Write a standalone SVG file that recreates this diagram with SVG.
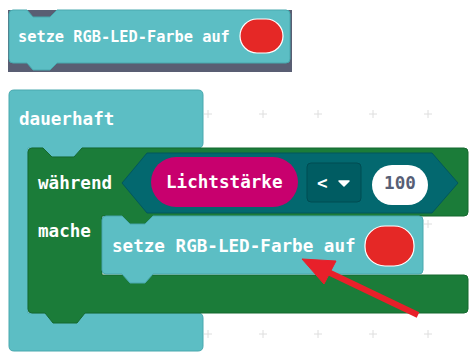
<svg xmlns="http://www.w3.org/2000/svg" width="469" height="352" viewBox="0 0 469 352">
  <defs>
    <style>
      .lbl { font-family: "DejaVu Sans Mono", "Liberation Mono", monospace; font-weight: bold; fill: #ffffff; }
      .big { font-size: 17.6px; }
      .small { font-size: 15.3px; }
      .teal { fill: #5cbec4; stroke: #48a8ae; stroke-width: 1; }
      .loop { fill: #1b7c39; stroke: #15692f; stroke-width: 1; }
      .colour { fill: #e52826; stroke: #ffffff; stroke-width: 1.2; }
      .grid { stroke: #dedede; stroke-width: 1; }
      .pointer { fill: #e8202a; stroke: #e8202a; }
    </style>
  </defs>

  <!-- workspace grid crosses -->
  <g id="grid" class="grid">
    <path d="M204,114h8M208,110v8 M259,114h8M263,110v8 M314,114h8M318,110v8 M369,114h8M373,110v8 M424,114h8M428,110v8"/>
    <path d="M424,224h8M428,220v8"/>
    <path d="M204,334h8M208,330v8 M259,334h8M263,330v8 M314,334h8M318,330v8 M369,334h8M373,330v8 M424,334h8M428,330v8"/>
  </g>

  <!-- standalone block on dark backdrop -->
  <g id="block-standalone">
    <rect x="8" y="10" width="284" height="62" fill="#595e73"/>
    <path class="teal" d="M9,14 Q9,10 13,10 H27 L33,17 H50 L57,10 H286 Q290,10 290,14 V59 Q290,63 286,63 H57 L50,70 H33 L27,63 H13 Q9,63 9,59 Z"/>
    <text class="lbl small" x="18" y="42">setze RGB-LED-Farbe auf</text>
    <rect class="colour" x="240" y="19" width="43" height="34" rx="17" ry="17"/>
  </g>

  <!-- forever block -->
  <g id="block-dauerhaft">
    <path class="teal" d="M9,95 Q9,90 14,90 H198 Q203,90 203,95 V143 Q203,148 198,148 H82 L74,157 H52 L43,148 H28 V313 H198 Q203,313 203,318 V346 Q203,351 198,351 H14 Q9,351 9,346 Z"/>
    <text class="lbl big" x="19" y="125">dauerhaft</text>
  </g>

  <!-- while loop block -->
  <g id="block-waehrend">
    <path class="loop" d="M28,152 Q28,148 32,148 H43 L52,157 H74 L82,148 H464 Q468,148 468,152 V212 Q468,216 464,216 H153 L145,224 H130 L122,216 H102 V275 H464 Q468,275 468,279 V309 Q468,313 464,313 H85 L77,323 H53 L45,313 H32 Q28,313 28,309 Z"/>
    <text class="lbl big" x="38" y="189">während</text>
    <text class="lbl big" x="38" y="237">mache</text>
  </g>

  <!-- comparison condition -->
  <g id="condition">
    <path d="M122,183 L147,153 H432 L458,183 L432,213 H147 Z" fill="#03686f" stroke="#02575d" stroke-width="1"/>
    <g id="sensor">
      <rect x="151" y="157" width="147" height="50" rx="25" fill="#c8006e"/>
      <text class="lbl big" x="166" y="188">Lichtstärke</text>
    </g>
    <g id="operator">
      <rect x="307" y="163" width="54" height="39" rx="4" fill="#005c62" stroke="#004c52" stroke-width="1"/>
      <text class="lbl big" x="317" y="189">&lt;</text>
      <path d="M339,181 H349 L344,186 Z" fill="#ffffff" stroke="#ffffff" stroke-width="1.5" stroke-linejoin="round"/>
    </g>
    <g id="value">
      <rect x="372" y="165" width="56" height="40" rx="20" fill="#ffffff"/>
      <text class="lbl big" x="400" y="189" text-anchor="middle" style="fill:#575e75">100</text>
    </g>
  </g>

  <!-- nested colour statement -->
  <g id="block-inner">
    <path class="teal" d="M102,220 Q102,216 106,216 H122 L130,224 H145 L153,216 H419 Q423,216 423,220 V270 Q423,274 419,274 H153 L145,283 H130 L122,274 H106 Q102,274 102,270 Z"/>
    <text class="lbl big" x="112" y="252">setze RGB-LED-Farbe auf</text>
    <rect class="colour" x="365" y="226" width="49" height="40" rx="20" ry="19"/>
  </g>

  <!-- pointer arrow -->
  <g id="connectors">
    <line class="pointer" x1="418" y1="315" x2="326" y2="271" stroke-width="6"/>
    <path class="pointer" d="M302,259 L336,261 L324,284 Z" stroke-width="1" stroke-linejoin="round"/>
  </g>
</svg>
